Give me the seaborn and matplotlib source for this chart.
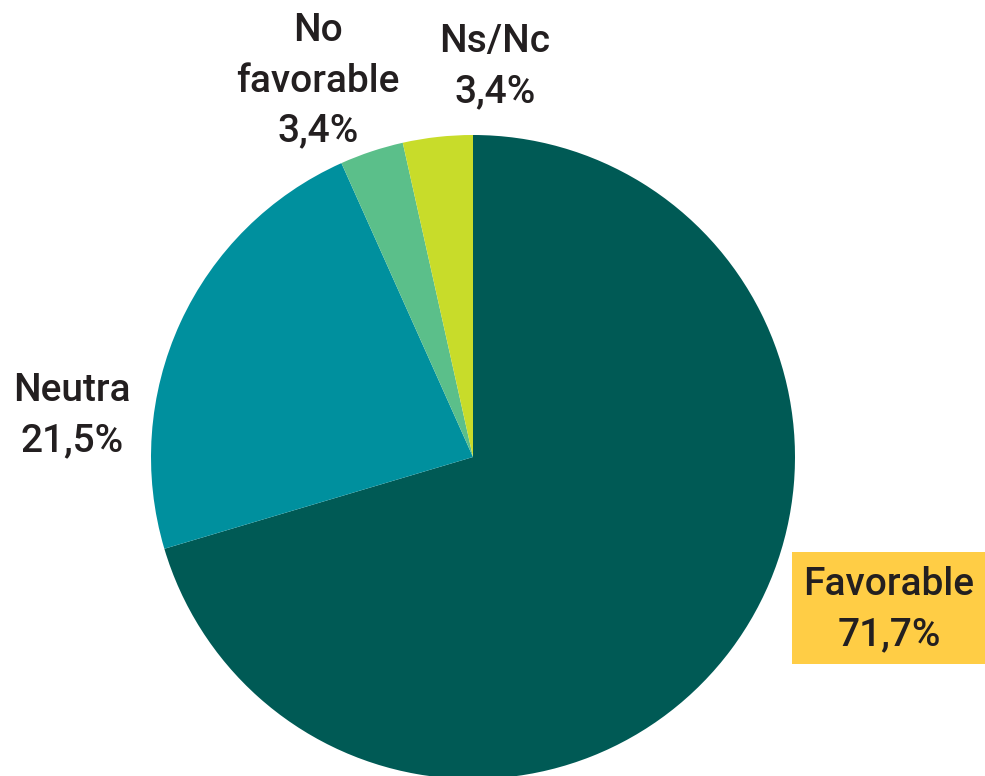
import matplotlib
matplotlib.use('Agg')
import matplotlib.pyplot as plt
import matplotlib.patches as mpatches
import seaborn as sns

# Chart data
categories = ['Favorable', 'Neutra', 'No favorable', 'Ns/Nc']
share_labels = ['71,7%', '21,5%', '3,4%', '3,4%']
# wedge sizes as drawn in the picture (the printed labels are rounded differently)
wedge_sizes = [70.4, 22.9, 3.2, 3.5]
colors = ['#005a55', '#00909e', '#5bbf8a', '#c8dc2a']

sns.set_theme(style='white')
plt.rcParams['font.family'] = ['Roboto', 'DejaVu Sans']

W, H = 985, 776
fig = plt.figure(figsize=(W / 100, H / 100), dpi=100)
ax = fig.add_axes([0, 0, 1, 1])

# pie centre and radius in pixels
cx, cy, r = 473, 457, 322
ax.pie(wedge_sizes, colors=colors, startangle=90, counterclock=False,
       wedgeprops=dict(linewidth=0))
ax.set_xlim(-cx / r, (W - cx) / r)
ax.set_ylim(-(H - cy) / r, cy / r)
ax.set_aspect('auto')
ax.axis('off')

txt = dict(fontsize=28, fontweight='medium', color='#231f20',
           ha='center', va='center', linespacing=1.45)

def put(x, y, s):
    fig.text(x / W, 1 - y / H, s, **txt)

# yellow box behind the main label
fig.patches.append(mpatches.Rectangle((792 / W, 1 - 664 / H), 193 / W, 112 / H,
                                      transform=fig.transFigure, fc='#ffcd45',
                                      ec='none', zorder=0))

put(889, 610, f'{categories[0]}\n{share_labels[0]}')
put(72, 416, f'{categories[1]}\n{share_labels[1]}')
put(318, 81, 'No\nfavorable\n' + share_labels[2])
put(495, 67, f'{categories[3]}\n{share_labels[3]}')

fig.savefig('out.png', dpi=100)
